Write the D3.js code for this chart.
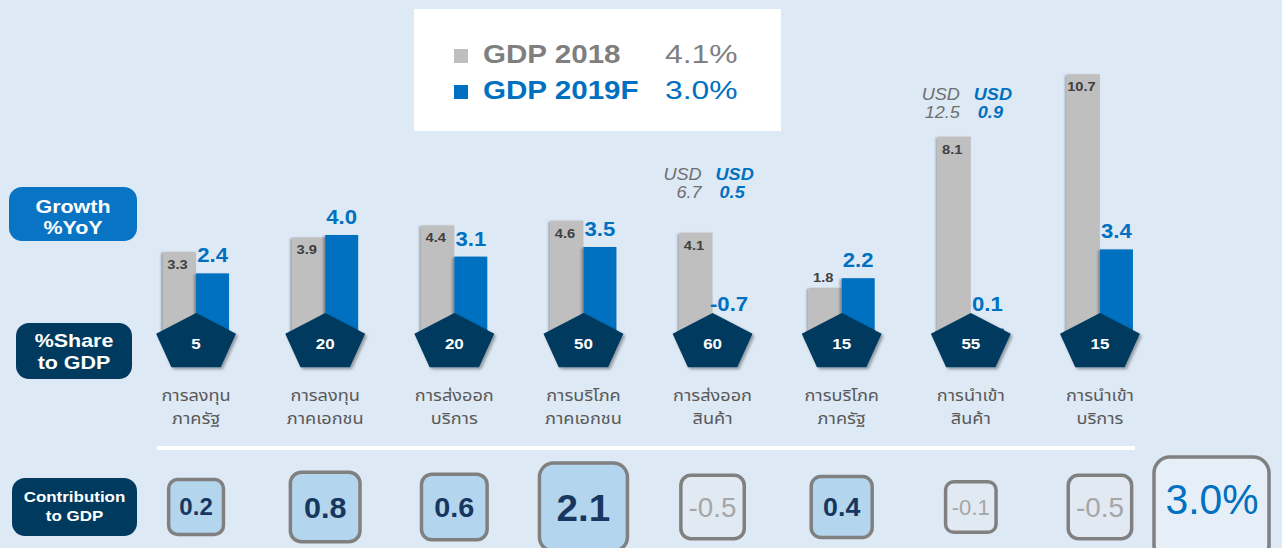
<!DOCTYPE html>
<html><head><meta charset="utf-8">
<script src="https://cdn.jsdelivr.net/npm/d3@7/dist/d3.min.js"></script>
<style>
html,body{margin:0;padding:0;background:#dde9f5;}
svg{display:block;}
</style></head>
<body>
<svg id="c" width="1282" height="548"></svg>
<script>
// ---------- DATA ----------
const categories = ["cat1","cat2","cat3","cat4","cat5","cat6","cat7","cat8"];
const labelLine1 = ["การลงทุน","การลงทุน","การส่งออก","การบริโภค","การส่งออก","การบริโภค","การนำเข้า","การนำเข้า"];
const labelLine2 = ["ภาครัฐ","ภาคเอกชน","บริการ","ภาคเอกชน","สินค้า","ภาครัฐ","สินค้า","บริการ"];
const growth2018 = [3.3, 3.9, 4.4, 4.6, 4.1, 1.8, 8.1, 10.7];
const growth2019 = [2.4, 4.0, 3.1, 3.5, -0.7, 2.2, 0.1, 3.4];
const shareGDP = [5, 20, 20, 50, 60, 15, 55, 15];
const contribution = [0.2, 0.8, 0.6, 2.1, -0.5, 0.4, -0.1, -0.5];
const usd2018 = [null, null, null, null, "6.7", null, "12.5", null];
const usd2019 = [null, null, null, null, "0.5", null, "0.9", null];
const seriesNames = ["GDP 2018", "GDP 2019F"];
const seriesTotals = ["4.1%", "3.0%"];
const totalContribution = "3.0%";

// ---------- STYLE ----------
const C = {bg:"#dde9f5", grey:"#bfbfbf", blue:"#0070c0", navy:"#003a5e", text:"#595959", dark:"#404040"};
const F = "'Liberation Sans', Arial, sans-serif";
const THAI = "Tahoma, 'Noto Sans Thai', 'Noto Sans Thai UI', 'Leelawadee UI', 'Noto Sans', sans-serif";
const SX = 1.13; // horizontal stretch of text seen in the reference
const tf = (x, y, s = SX) => `translate(${x},${y}) scale(${s},1)`;

const svg = d3.select("#c");
svg.append("rect").attr("width",1282).attr("height",548).attr("fill",C.bg);

const defs = svg.append("defs");
const sh = defs.append("filter").attr("id","sh").attr("x","-20%").attr("y","-20%").attr("width","140%").attr("height","140%");
sh.append("feDropShadow").attr("dx",-2).attr("dy",1).attr("stdDeviation",1).attr("flood-color","#000").attr("flood-opacity",0.3);
const sh2 = defs.append("filter").attr("id","sh2").attr("x","-20%").attr("y","-20%").attr("width","140%").attr("height","140%");
sh2.append("feDropShadow").attr("dx",2).attr("dy",2).attr("stdDeviation",1.5).attr("flood-color","#000").attr("flood-opacity",0.35);

// ---------- SCALES ----------
const x0 = d3.scaleBand().domain(categories).range([131.5, 1164.5]).padding(0);
const x1 = d3.scaleBand().domain(seriesNames).range([0, 66]).padding(0);
const y = d3.scaleLinear().domain([0, 11]).range([331, 67]);
const cx = c => x0(c) + x0.bandwidth()/2;
const barX = (c, s) => cx(c) - 33 + x1(s);

// ---------- LEGEND ----------
const lg = svg.append("g");
lg.append("rect").attr("x",414).attr("y",9).attr("width",367).attr("height",122).attr("fill","#fff");
const legColors = [C.grey, C.blue];
const legText = ["#7f7f7f", C.blue];
seriesNames.forEach((s,i)=>{
  const yy = 63 + i*36;
  lg.append("rect").attr("x",454).attr("y",yy-14).attr("width",14).attr("height",14).attr("fill",legColors[i]);
  lg.append("text").attr("transform",tf(483,yy,1.16)).attr("font-family",F).attr("font-weight","bold").attr("font-size",25.5).attr("fill",legText[i]).text(s);
  lg.append("text").attr("transform",tf(665,yy,1.2)).attr("font-family",F).attr("font-size",26.5).attr("fill",legText[i]).text(seriesTotals[i]);
});

// ---------- LEFT LABEL BOXES ----------
function labelBox(x, yy, w, h, fill, lines, fs, baselines){
  svg.append("rect").attr("x",x).attr("y",yy).attr("width",w).attr("height",h).attr("rx",13).attr("fill",fill);
  lines.forEach((l,i)=>svg.append("text").attr("transform",tf(x+w/2, baselines[i]))
    .attr("font-family",F).attr("font-weight","bold").attr("font-size",fs).attr("fill","#fff").attr("text-anchor","middle").text(l));
}
labelBox(9,187,128,54,"#0a74c4",["Growth","%YoY"],19,[213,234]);
labelBox(16,323,116,56,C.navy,["%Share","to GDP"],19,[347,369]);
labelBox(12,478,125,58,C.navy,["Contribution","to GDP"],15,[502,521]);

// ---------- BARS ----------
const bars = [growth2018, growth2019];
seriesNames.forEach((s,si)=>{
  svg.append("g").selectAll("rect").data(categories).join("rect")
    .attr("x", c=>barX(c,s)).attr("width", x1.bandwidth())
    .attr("y", (c,i)=>y(Math.max(0,bars[si][i])))
    .attr("height", (c,i)=>Math.abs(y(bars[si][i])-y(0)))
    .attr("fill", legColors[si]).attr("filter","url(#sh)");
});

// ---------- PENTAGONS ----------
const rx = 42, ry = 30, pcy = 343;
const pent = c => d3.range(5).map(k=>{
  const a = (-90 + 72*k) * Math.PI/180;
  return [cx(c) + rx*Math.cos(a), pcy + ry*Math.sin(a)];
});
svg.append("g").selectAll("path").data(categories).join("path")
  .attr("d", c=>d3.line()(pent(c))+"Z").attr("fill",C.navy).attr("filter","url(#sh2)");
svg.append("g").selectAll("text").data(categories).join("text")
  .attr("transform", c=>tf(cx(c), pcy+6)).attr("text-anchor","middle")
  .attr("font-family",F).attr("font-weight","bold").attr("font-size",15).attr("fill","#fff")
  .text((c,i)=>shareGDP[i]);

// ---------- VALUE LABELS ----------
svg.append("g").selectAll("text").data(categories).join("text")
  .attr("transform", (c,i)=>tf(barX(c,seriesNames[0])+x1.bandwidth()/2 - 2,
        growth2018[i] < 2 ? y(growth2018[i]) - 6 : y(growth2018[i]) + 17))
  .attr("text-anchor","middle").attr("font-family",F).attr("font-weight","bold").attr("font-size",13).attr("fill",C.dark)
  .text((c,i)=>growth2018[i].toFixed(1));
svg.append("g").selectAll("text").data(categories).join("text")
  .attr("transform", (c,i)=>tf(barX(c,seriesNames[1])+x1.bandwidth()/2,
        Math.min(y(growth2019[i]), y(0)-9) - 11, 1.08))
  .attr("text-anchor","middle").attr("font-family",F).attr("font-weight","bold").attr("font-size",20.5).attr("fill",C.blue)
  .text((c,i)=>growth2019[i].toFixed(1));

// ---------- USD ANNOTATIONS ----------
categories.forEach((c,i)=>{
  if(usd2018[i]){
    const base = Math.max(y(growth2018[i]) - 53, 100);
    const xr = barX(c,seriesNames[0]) + x1.bandwidth() - 11;
    svg.append("text").attr("transform",tf(xr,base)).attr("font-family",F).attr("font-style","italic").attr("font-size",16).attr("fill","#6e6e6e").attr("text-anchor","end").text("USD");
    svg.append("text").attr("transform",tf(xr,base+18)).attr("font-family",F).attr("font-style","italic").attr("font-size",16).attr("fill","#6e6e6e").attr("text-anchor","end").text(usd2018[i]);
    const xl = barX(c,seriesNames[1]) + 3;
    svg.append("text").attr("transform",tf(xl,base)).attr("font-family",F).attr("font-style","italic").attr("font-weight","bold").attr("font-size",16).attr("fill",C.blue).text("USD");
    svg.append("text").attr("transform",tf(xl+4,base+18)).attr("font-family",F).attr("font-style","italic").attr("font-weight","bold").attr("font-size",16).attr("fill",C.blue).text(usd2019[i]);
  }
});

// ---------- CATEGORY LABELS ----------
[labelLine1, labelLine2].forEach((arr, li)=>{
  svg.append("g").selectAll("text").data(categories).join("text")
    .attr("transform", c=>tf(cx(c), 401 + li*23, 1.1)).attr("text-anchor","middle")
    .attr("font-family",THAI).attr("font-size",16.5).attr("fill",C.text)
    .text((c,i)=>arr[i]);
});

// separator
svg.append("rect").attr("x",157).attr("y",446).attr("width",978).attr("height",4).attr("fill","#fff");

// ---------- CONTRIBUTION BOXES ----------
const sz = d3.scaleSqrt().domain([0, 2.1]).range([40, 88]);
const boxCy = 507;
const cb = svg.append("g").selectAll("g").data(categories).join("g")
  .attr("transform", c=>`translate(${cx(c)},${boxCy})`);
cb.append("rect")
  .attr("x",(c,i)=>-sz(Math.abs(contribution[i]))/2).attr("y",(c,i)=>-sz(Math.abs(contribution[i]))/2)
  .attr("width",(c,i)=>sz(Math.abs(contribution[i]))).attr("height",(c,i)=>sz(Math.abs(contribution[i])))
  .attr("rx",(c,i)=>sz(Math.abs(contribution[i]))*0.16)
  .attr("fill",(c,i)=>contribution[i]>=0?"#b4d5ee":"#e1e9f2")
  .attr("stroke","#808080").attr("stroke-width",3.5);
cb.append("text").attr("text-anchor","middle")
  .attr("font-family",F)
  .attr("font-weight",(c,i)=>contribution[i]>=0?"bold":"normal")
  .attr("font-size",(c,i)=>sz(Math.abs(contribution[i]))*0.43)
  .attr("transform",(c,i)=>tf(0, sz(Math.abs(contribution[i]))*0.43*0.36, 1.02))
  .attr("fill",(c,i)=>contribution[i]>=0?"#17375e":"#a6a6a6")
  .text((c,i)=>contribution[i].toFixed(1));

// total box
svg.append("rect").attr("x",1154).attr("y",457).attr("width",115).attr("height",104).attr("rx",16)
  .attr("fill","#e6eef7").attr("stroke","#808080").attr("stroke-width",3.5);
svg.append("text").attr("transform",tf(1212,514,0.95)).attr("text-anchor","middle")
  .attr("font-family",F).attr("font-size",43).attr("fill",C.blue).text(totalContribution);
</script>
</body></html>
